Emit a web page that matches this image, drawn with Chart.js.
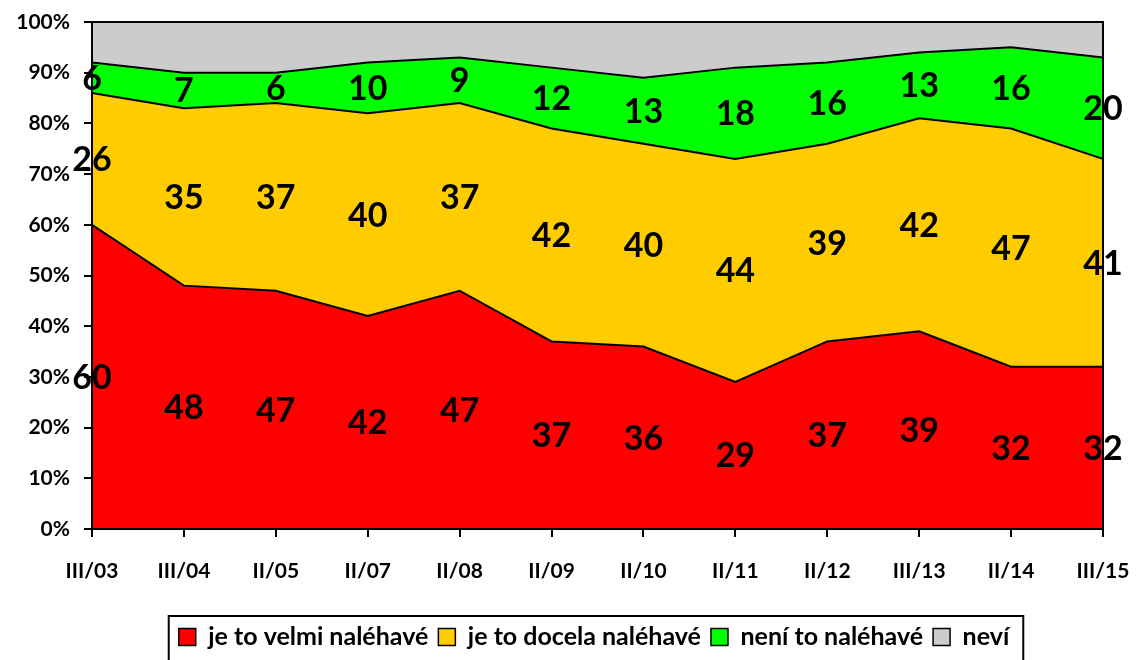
<!DOCTYPE html>
<html lang="cs">
<head>
<meta charset="UTF-8">
<title>Naléhavost</title>
<script src="https://cdn.jsdelivr.net/npm/chart.js"></script>
<style>
  html, body { margin: 0; padding: 0; background: #fff; }
  #wrap { width: 1137px; height: 660px; }
</style>
</head>
<body>
<div id="wrap"><canvas id="c" width="1137" height="660"></canvas></div>
<script>
// hodnoty v procentech
const categories = ['III/03', 'III/04', 'II/05', 'II/07', 'II/08', 'II/09', 'II/10', 'II/11', 'II/12', 'III/13', 'II/14', 'III/15'];
const velmi  = [60, 48, 47, 42, 47, 37, 36, 29, 37, 39, 32, 32];
const docela = [26, 35, 37, 40, 37, 42, 40, 44, 39, 42, 47, 41];
const neni   = [6, 7, 6, 10, 9, 12, 13, 18, 16, 13, 16, 20];
const nevi   = [8, 10, 10, 8, 7, 9, 11, 9, 8, 6, 5, 7];
const seriesNames = ['je to velmi naléhavé', 'je to docela naléhavé', 'není to naléhavé', 'neví'];
const yTicks = [0, 10, 20, 30, 40, 50, 60, 70, 80, 90, 100];

const FONT = 'Lato, "Open Sans", sans-serif';
const PLOT_BOTTOM = 529;
const LEGEND_MID = 637;
const LEGEND_CENTER_X = 594;

// popisky hodnot uprostred vrstev + ramecek grafu a legendy
const extras = {
  id: 'extras',
  afterLayout(chart) {
    const lg = chart.legend;
    if (!lg) return;
    const dx = LEGEND_CENTER_X - (lg.left + lg.right) / 2;
    lg.left += dx; lg.right += dx;
    const dy = LEGEND_MID - (lg.top + lg.height / 2);
    lg.top += dy; lg.bottom += dy;
  },
  afterDatasetsDraw(chart) {
    const ctx = chart.ctx;
    const a = chart.chartArea;
    const y = chart.scales.y;
    ctx.save();
    ctx.strokeStyle = '#000';
    ctx.lineWidth = 2;
    ctx.strokeRect(a.left, a.top, a.right - a.left, a.bottom - a.top);

    ctx.fillStyle = '#000';
    ctx.font = 'bold 34px ' + FONT;
    ctx.textAlign = 'center';
    ctx.textBaseline = 'middle';
    const stack = new Array(categories.length).fill(0);
    [velmi, docela, neni].forEach((vals, i) => {
      const meta = chart.getDatasetMeta(i);
      vals.forEach((v, j) => {
        const px = meta.data[j].x;
        const py = y.getPixelForValue(stack[j] + v / 2);
        ctx.fillText(String(v), px, py + 1);
        stack[j] += v;
      });
    });
    ctx.restore();
  },
  afterDraw(chart) {
    const lg = chart.legend;
    if (!lg || !lg.legendHitBoxes.length) return;
    const boxes = lg.legendHitBoxes;
    const l = boxes[0].left - 10;
    const last = boxes[boxes.length - 1];
    const r = last.left + last.width + 14;
    const ctx = chart.ctx;
    ctx.save();
    ctx.strokeStyle = '#000';
    ctx.lineWidth = 2;
    ctx.strokeRect(l, 616, r - l, 60);
    ctx.restore();
  }
};

const colors = ['#ff0000', '#ffcc00', '#00ff00', '#cccccc'];
const datasets = [velmi, docela, neni, nevi].map((vals, i) => ({
  label: seriesNames[i],
  data: vals,
  backgroundColor: colors[i],
  borderColor: '#000',
  borderWidth: i === 3 ? 0 : 2,
  fill: i === 0 ? 'origin' : '-1',
  pointRadius: 0,
  tension: 0
}));

new Chart(document.getElementById('c'), {
  type: 'line',
  data: { labels: categories, datasets: datasets },
  plugins: [extras],
  options: {
    responsive: false,
    animation: false,
    layout: { padding: { top: 22, right: 34, left: 0, bottom: 0 } },
    plugins: {
      tooltip: { enabled: false },
      legend: {
        position: 'bottom',
        labels: {
          color: '#000',
          font: { family: FONT, size: 25, weight: 'bold' },
          boxWidth: 17,
          boxHeight: 17,
          padding: 10,
          generateLabels(chart) {
            return chart.data.datasets.map((d, i) => ({
              text: d.label,
              fillStyle: d.backgroundColor,
              strokeStyle: '#000',
              lineWidth: 1.5,
              hidden: false,
              datasetIndex: i,
              fontColor: '#000'
            }));
          }
        }
      }
    },
    scales: {
      x: {
        offset: false,
        afterFit(s) {
          const lh = s.chart.legend ? s.chart.legend.height : 0;
          s.height = 660 - PLOT_BOTTOM - lh;
          s.paddingLeft = 0;
          s.paddingRight = 0;
        },
        grid: { display: true, drawOnChartArea: false, drawTicks: true, tickLength: 8, color: '#000', lineWidth: 2 },
        border: { display: true, color: '#000', width: 2 },
        ticks: {
          color: '#000',
          font: { family: FONT, size: 21, weight: 'bold' },
          maxRotation: 0,
          autoSkip: false,
          padding: 22
        }
      },
      y: {
        stacked: true,
        min: 0,
        max: 100,
        afterFit(s) {
          s.width = 92;
          s.paddingTop = 0;
          s.paddingBottom = 0;
        },
        afterBuildTicks(s) { s.ticks = yTicks.map(v => ({ value: v })); },
        grid: { display: true, drawOnChartArea: false, drawTicks: true, tickLength: 8, color: '#000', lineWidth: 2 },
        border: { display: true, color: '#000', width: 2 },
        ticks: {
          color: '#000',
          font: { family: FONT, size: 21, weight: 'bold' },
          padding: 14,
          callback: v => v + '%'
        }
      }
    }
  }
});
</script>
</body>
</html>
